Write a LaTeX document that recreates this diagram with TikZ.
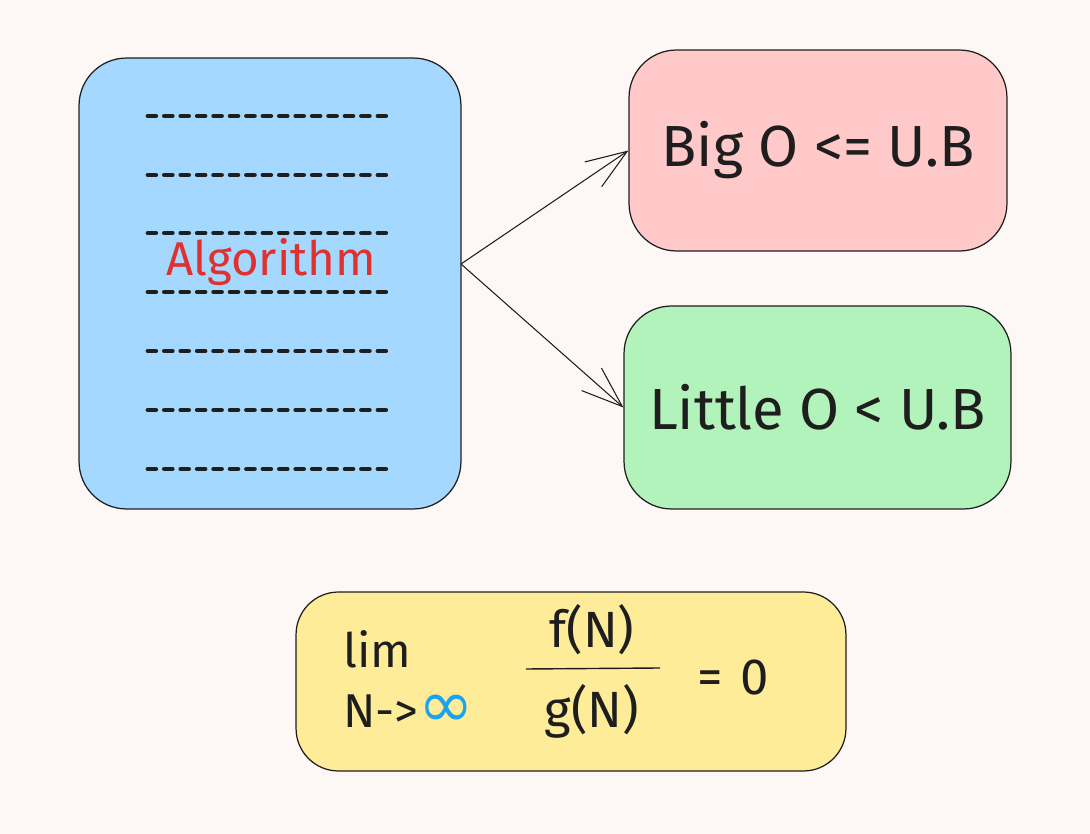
\documentclass[tikz,border=0pt]{standalone}
\usepackage{fontspec}
\setmainfont{Fira Sans}
\newfontfamily\symfont{DejaVu Sans}
\usetikzlibrary{arrows.meta}
\definecolor{paper}{HTML}{FDF8F5}
\definecolor{algoblue}{HTML}{A5D8FF}
\definecolor{bigred}{HTML}{FFC9C9}
\definecolor{littlegreen}{HTML}{B2F2BB}
\definecolor{limyellow}{HTML}{FFEC99}
\definecolor{inkred}{HTML}{E03131}
\definecolor{inkblue}{HTML}{1CA3EC}
\definecolor{ink}{HTML}{1E1E1E}
\tikzset{
  box/.style={draw=ink,line width=0.7pt,rounded corners=0.95cm,inner sep=0pt},
  bigtext/.style={font=\fontsize{33}{38}\selectfont,text=ink},
  limtext/.style={font=\fontsize{27}{31}\selectfont,text=ink,inner sep=0pt},
  fractext/.style={font=\fontsize{29}{34}\selectfont,text=ink,inner sep=0pt},
  dashrow/.style={draw=ink,line width=2.8pt,line cap=round,dash pattern=on 4.4pt off 4.95pt},
  flow/.style={draw=ink,line width=0.6pt,-{Straight Barb[length=0.82cm,width=0.6cm,line width=0.6pt]}}
}
\begin{document}
\begin{tikzpicture}[x=0.02cm,y=-0.02cm]
\fill[paper] (0,0) rectangle (1090,834);
\useasboundingbox (0,0) rectangle (1090,834);
% left box
\node (algo) at (270,283.5) [box,fill=algoblue,minimum width=7.64cm,minimum height=9.02cm] {};
\foreach \y in {116,175,233,292,351,410,469}
  \draw[dashrow] (148,\y) -- (391,\y);
\node (algolabel) at (271,262) [font=\fontsize{27}{32}\selectfont,text=inkred] {Algorithm};
% right boxes
\node (bigo) at (818,150.5) [box,bigtext,fill=bigred,minimum width=7.56cm,minimum height=4.02cm] {Big O <= U.B};
\node (littleo) at (817.5,407.5) [box,bigtext,fill=littlegreen,minimum width=7.74cm,minimum height=4.06cm] {Little O < U.B};
\coordinate (fork) at (461,264);
\draw[flow] (fork) -- (bigo.west);
\draw[flow] (fork) -- (littleo.west);
% limit box
\node (limbox) at (571,681.5) [box,fill=limyellow,minimum width=11cm,minimum height=3.58cm,rounded corners=0.85cm] {};
\node (lim) at (343,668) [limtext,anchor=base west] {lim};
\node (tends) at (343,728) [limtext,anchor=base west] {N->{\symfont\fontsize{38}{40}\selectfont\color{inkblue}∞}};
\node (numer) at (592,648) [fractext,anchor=base] {f(N)};
\node (denom) at (592,728) [fractext,anchor=base] {g(N)};
\coordinate (barL) at (526,669);
\coordinate (barR) at (660,668);
\draw[ink,line width=0.8pt] (barL) -- (barR);
\node (zero) at (733,695) [fractext,anchor=base] {=\,\,0};
\end{tikzpicture}
\end{document}
